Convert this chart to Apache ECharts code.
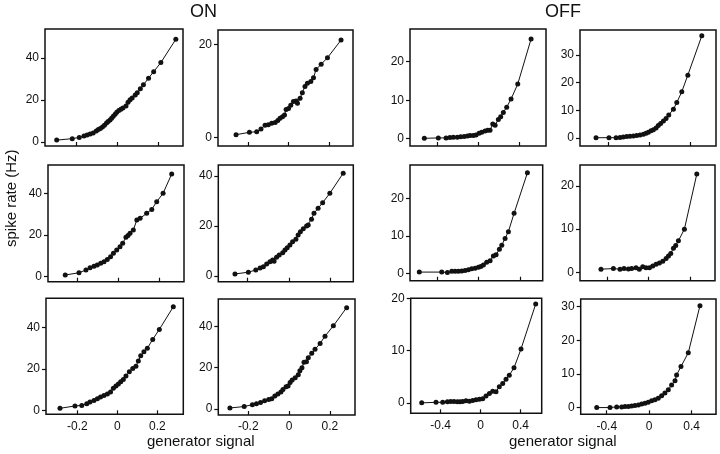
<!DOCTYPE html>
<html>
<head>
<meta charset="utf-8">
<script src="https://cdn.jsdelivr.net/npm/echarts@6/dist/echarts.min.js"></script>
<style>html,body{margin:0;padding:0;background:#fff}#c{width:720px;height:454px}</style>
</head>
<body>
<div id="c"></div>
<script>
// ---- data: [generator signal, spike rate (Hz)] ----
const on1 = [[-0.293,0.9],[-0.217,1.6],[-0.183,2.2],[-0.16,2.9],[-0.145,3.3],[-0.13,3.8],[-0.115,4.3],[-0.1,5.2],[-0.09,5.9],[-0.08,6.4],[-0.07,7.1],[-0.06,8.0],[-0.05,9.0],[-0.042,9.8],[-0.033,10.5],[-0.025,11.3],[-0.017,12.3],[-0.008,13.2],[0.0,14.2],[0.01,15.0],[0.02,15.6],[0.03,16.2],[0.045,17.2],[0.055,18.9],[0.065,20.1],[0.075,21.0],[0.09,22.4],[0.1,23.5],[0.115,25.4],[0.13,27.2],[0.155,30.4],[0.18,33.5],[0.215,37.8],[0.288,48.9]];
const on2 = [[-0.259,0.56],[-0.193,1.07],[-0.157,1.2],[-0.136,1.8],[-0.116,2.6],[-0.1,2.7],[-0.083,3.0],[-0.066,3.2],[-0.053,3.6],[-0.042,4.1],[-0.03,4.4],[-0.02,4.8],[-0.012,6.0],[0.0,6.2],[0.011,6.9],[0.024,7.7],[0.037,7.8],[0.044,7.3],[0.057,8.4],[0.068,9.6],[0.081,10.9],[0.093,11.6],[0.11,12.0],[0.123,12.8],[0.136,14.6],[0.161,15.7],[0.192,17.1],[0.259,20.9]];
const on3 = [[-0.259,0.8],[-0.192,1.9],[-0.158,3.2],[-0.138,4.3],[-0.119,5.0],[-0.103,5.6],[-0.086,6.4],[-0.07,7.2],[-0.054,8.3],[-0.038,9.6],[-0.024,11.2],[-0.008,12.8],[0.008,14.4],[0.021,16.0],[0.037,18.9],[0.047,19.8],[0.057,20.8],[0.073,22.4],[0.09,27.2],[0.106,28.0],[0.138,30.4],[0.163,32.3],[0.187,36.0],[0.218,40.0],[0.26,49.3]];
const on4 = [[-0.262,0.8],[-0.197,1.5],[-0.161,2.4],[-0.14,3.2],[-0.124,3.7],[-0.108,4.8],[-0.092,5.7],[-0.079,6.4],[-0.072,5.9],[-0.06,7.5],[-0.047,8.4],[-0.03,9.3],[-0.019,10.4],[-0.008,11.3],[0.005,12.4],[0.018,13.7],[0.034,14.7],[0.045,16.4],[0.056,17.7],[0.07,18.9],[0.086,20.0],[0.094,20.4],[0.11,22.7],[0.122,25.1],[0.142,27.1],[0.164,29.3],[0.199,33.1],[0.264,41.1]];
const on5 = [[-0.287,1.0],[-0.212,2.1],[-0.178,2.4],[-0.153,3.2],[-0.137,4.0],[-0.117,4.8],[-0.1,5.6],[-0.084,6.4],[-0.067,7.1],[-0.05,7.9],[-0.034,8.8],[-0.02,10.6],[-0.007,11.7],[0.005,12.7],[0.017,13.8],[0.03,14.9],[0.043,16.5],[0.06,18.6],[0.077,20.2],[0.093,21.3],[0.105,23.8],[0.117,26.3],[0.133,28.2],[0.15,29.9],[0.177,34.2],[0.21,39.0],[0.28,49.9]];
const on6 = [[-0.29,0.5],[-0.22,1.2],[-0.18,2.1],[-0.16,2.6],[-0.14,3.1],[-0.12,4.0],[-0.1,4.6],[-0.085,5.0],[-0.07,6.3],[-0.055,7.3],[-0.04,8.2],[-0.03,9.5],[-0.015,10.8],[-0.005,11.2],[0.005,12.9],[0.015,14.0],[0.03,15.2],[0.045,16.6],[0.053,18.5],[0.063,20.0],[0.073,22.6],[0.085,22.9],[0.094,24.8],[0.111,27.0],[0.127,28.9],[0.152,31.8],[0.176,35.3],[0.217,40.3],[0.282,49.1]];

const off1 = [[-0.532,0.1],[-0.394,0.2],[-0.318,0.2],[-0.28,0.3],[-0.246,0.35],[-0.207,0.4],[-0.174,0.5],[-0.14,0.6],[-0.108,0.7],[-0.082,0.8],[-0.05,0.8],[-0.023,0.95],[0.007,1.4],[0.033,1.7],[0.066,2.0],[0.092,2.2],[0.115,2.2],[0.142,3.8],[0.165,3.5],[0.197,5.0],[0.22,5.7],[0.246,6.8],[0.279,8.2],[0.322,10.3],[0.388,14.2],[0.519,25.9]];
const off2 = [[-0.52,0.1],[-0.393,0.1],[-0.324,0.1],[-0.285,0.2],[-0.253,0.35],[-0.22,0.5],[-0.187,0.6],[-0.154,0.7],[-0.122,0.85],[-0.089,1.1],[-0.056,1.3],[-0.03,1.7],[-0.007,2.1],[0.019,2.6],[0.042,3.0],[0.068,3.6],[0.09,4.5],[0.113,5.2],[0.14,6.1],[0.166,7.0],[0.192,8.3],[0.238,10.4],[0.271,12.8],[0.32,16.7],[0.379,22.7],[0.516,36.9]];
const off3 = [[-0.574,0.3],[-0.357,0.3],[-0.302,0.2],[-0.26,0.5],[-0.228,0.5],[-0.196,0.5],[-0.163,0.6],[-0.131,0.7],[-0.099,0.9],[-0.067,1.2],[-0.034,1.3],[-0.002,1.6],[0.021,1.8],[0.046,2.2],[0.078,2.9],[0.111,3.3],[0.143,4.6],[0.169,4.9],[0.201,6.4],[0.224,7.5],[0.256,9.3],[0.288,11.1],[0.343,16.0],[0.472,26.8]];
const off4 = [[-0.461,0.76],[-0.341,0.9],[-0.277,0.76],[-0.238,0.9],[-0.196,0.8],[-0.164,0.9],[-0.122,1.1],[-0.09,0.76],[-0.057,1.3],[-0.025,1.1],[0.008,1.1],[0.04,1.5],[0.072,1.9],[0.104,2.2],[0.137,2.6],[0.169,3.2],[0.192,3.8],[0.214,4.4],[0.24,5.6],[0.262,6.2],[0.288,7.3],[0.346,10.0],[0.466,22.7]];
const off5 = [[-0.59,0.0],[-0.447,0.1],[-0.38,0.1],[-0.333,0.2],[-0.3,0.25],[-0.267,0.25],[-0.233,0.2],[-0.207,0.2],[-0.18,0.25],[-0.147,0.4],[-0.113,0.3],[-0.08,0.45],[-0.047,0.6],[-0.013,0.7],[0.02,0.8],[0.053,1.3],[0.087,1.8],[0.12,2.2],[0.153,2.1],[0.186,3.1],[0.22,3.7],[0.253,4.5],[0.286,5.3],[0.333,6.7],[0.403,10.3],[0.55,18.9]];
const off6 = [[-0.494,0.0],[-0.369,0.0],[-0.306,0.2],[-0.259,0.2],[-0.228,0.3],[-0.196,0.3],[-0.165,0.5],[-0.134,0.6],[-0.102,0.8],[-0.071,1.1],[-0.04,1.3],[-0.009,1.6],[0.023,2.0],[0.054,2.3],[0.085,2.8],[0.117,3.5],[0.148,4.3],[0.18,5.3],[0.211,6.7],[0.243,8.0],[0.258,9.7],[0.299,12.2],[0.368,16.3],[0.478,30.3]];

// ---- tick labels ----
const onXTicks = [-0.2, 0, 0.2];
const offXTicks = [-0.4, 0, 0.4];
const yTicks40 = [0, 20, 40];
const yTicks20 = [0, 20];
const yTicks10to20 = [0, 10, 20];
const yTicks10to30 = [0, 10, 20, 30];

// ---- panel layout (pixel boxes and axis extents) ----
const panels = [
  {d: on1,  box:[45,29,183,146],      x:[-0.35,0.323],  y:[-1.9,53.8],  xt:onXTicks,  yt:yTicks40},
  {d: on2,  box:[218,30,353,146],     x:[-0.348,0.318], y:[-1.87,23.07],xt:onXTicks,  yt:yTicks20},
  {d: off1, box:[410,29,546,146],     x:[-0.673,0.666], y:[-1.9,28.5],  xt:offXTicks, yt:yTicks10to20},
  {d: off2, box:[580,30,716,146],     x:[-0.677,0.655], y:[-2.9,39.0],  xt:offXTicks, yt:yTicks10to30},
  {d: on3,  box:[48,165,184,281.7],   x:[-0.343,0.32],  y:[-2.4,53.6],  xt:onXTicks,  yt:yTicks40},
  {d: on4,  box:[218.3,165,353.3,281.7], x:[-0.343,0.313], y:[-2.3,44.4], xt:onXTicks, yt:yTicks40},
  {d: off3, box:[410,165,542.7,280.7],x:[-0.664,0.62],  y:[-2.0,28.9],  xt:offXTicks, yt:yTicks10to20},
  {d: off4, box:[580,165,715,280.7],  x:[-0.664,0.642], y:[-1.9,24.8],  xt:offXTicks, yt:yTicks10to20},
  {d: on5,  box:[46,298.3,183.3,414.3], x:[-0.357,0.33], y:[-1.9,54.0], xt:onXTicks,  yt:yTicks40, lab:true},
  {d: on6,  box:[218.3,299,355,415],  x:[-0.347,0.323], y:[-2.9,53.3],  xt:onXTicks,  yt:yTicks40, lab:true},
  {d: off5, box:[410.7,298.3,541.7,413.3], x:[-0.7,0.61], y:[-2.0,20.0], xt:offXTicks, yt:yTicks10to20, lab:true},
  {d: off6, box:[580.7,299,716,414.3],x:[-0.645,0.629], y:[-2.0,32.3],  xt:offXTicks, yt:yTicks10to30, lab:true}
];

const FONT = 'Liberation Sans, Arial, Helvetica, sans-serif';
const grid = [], xAxis = [], yAxis = [], series = [];
panels.forEach((p, i) => {
  const [l, t, r, b] = p.box;
  grid.push({left: l, top: t, width: r - l, height: b - t, show: true,
    borderColor: '#111', borderWidth: 1.5, backgroundColor: 'transparent', containLabel: false});
  xAxis.push({type: 'value', gridIndex: i, min: p.x[0], max: p.x[1], position: 'bottom',
    axisLine: {show: false, onZero: false}, splitLine: {show: false},
    axisTick: {show: true, inside: true, length: 4, customValues: p.xt, lineStyle: {color: '#111', width: 1.2}},
    axisLabel: {show: !!p.lab, customValues: p.xt, margin: 6, fontSize: 12, color: '#111', fontFamily: FONT,
      formatter: v => String(v)}
  });
  yAxis.push({type: 'value', gridIndex: i, min: p.y[0], max: p.y[1], position: 'left',
    axisLine: {show: false, onZero: false}, splitLine: {show: false},
    axisTick: {show: true, inside: false, length: 4, customValues: p.yt, lineStyle: {color: '#111', width: 1.2}},
    axisLabel: {show: true, customValues: p.yt, margin: 6, fontSize: 12, color: '#111', fontFamily: FONT}
  });
  series.push({type: 'line', xAxisIndex: i, yAxisIndex: i, data: p.d,
    symbol: 'circle', symbolSize: 5, showSymbol: true,
    itemStyle: {color: '#111'}, lineStyle: {color: '#111', width: 1}, animation: false, silent: true});
});

const chart = echarts.init(document.getElementById('c'), null, {renderer: 'canvas'});
chart.setOption({
  backgroundColor: '#fff',
  animation: false,
  grid, xAxis, yAxis, series,
  graphic: [
    {type: 'text', left: 190, top: 3, style: {text: 'ON', fontSize: 18, fontFamily: FONT, fill: '#111'}},
    {type: 'text', left: 545, top: 3, style: {text: 'OFF', fontSize: 18, fontFamily: FONT, fill: '#111'}},
    {type: 'text', x: 4, y: 247, rotation: Math.PI / 2, style: {text: 'spike rate (Hz)', fontSize: 15, fontFamily: FONT, fill: '#111'}},
    {type: 'text', left: 147, top: 434, style: {text: 'generator signal', fontSize: 15, fontFamily: FONT, fill: '#111'}},
    {type: 'text', left: 509, top: 434, style: {text: 'generator signal', fontSize: 15, fontFamily: FONT, fill: '#111'}}
  ]
});
</script>
</body>
</html>
